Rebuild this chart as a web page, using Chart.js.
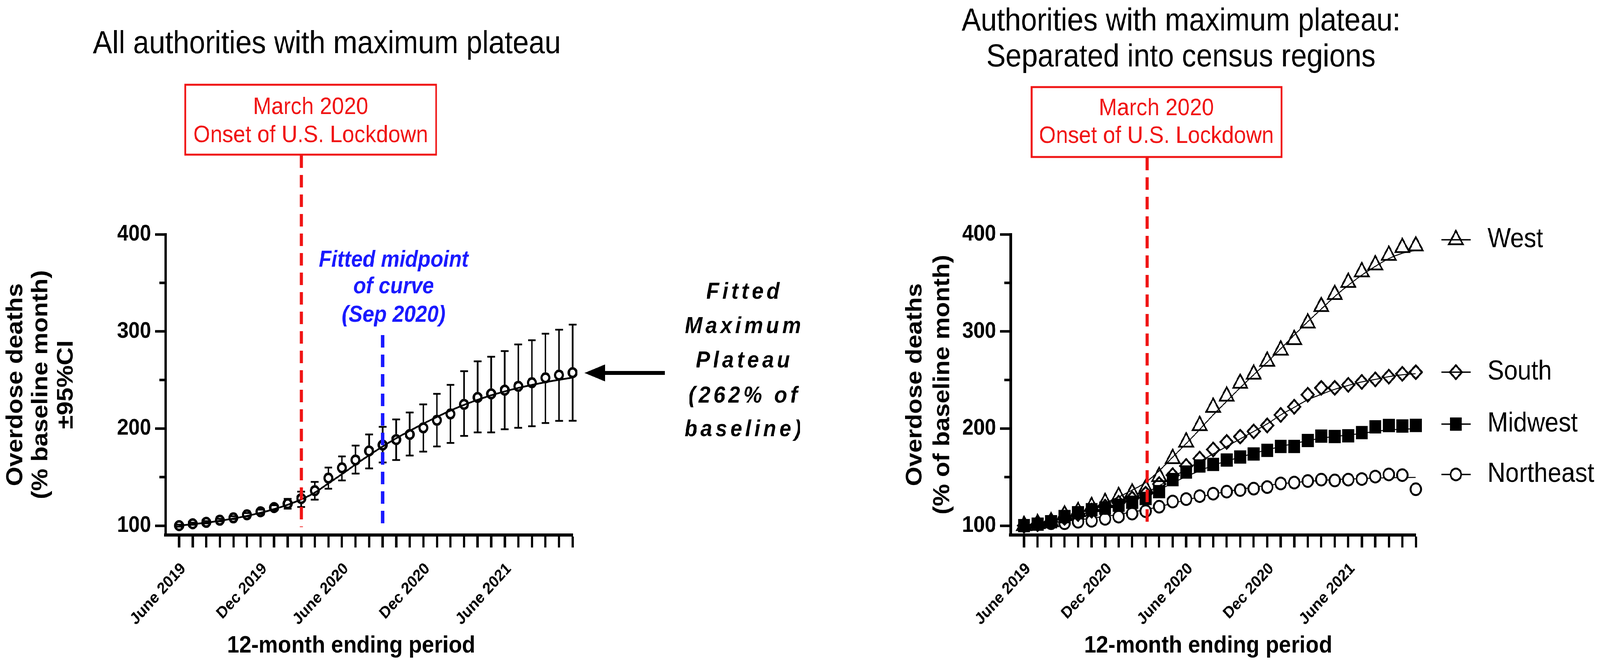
<!DOCTYPE html>
<html>
<head>
<meta charset="utf-8">
<script src="https://cdn.jsdelivr.net/npm/chart.js@4.4.1/dist/chart.umd.min.js"></script>
<style>
  html, body { margin: 0; padding: 0; background: #fff; overflow: hidden; }
  #outer { position: relative; overflow: hidden; width: 4552px; height: 1708px; background: #fff; }
  #wrap { position: absolute; left: 0; top: 0; width: 4552px; height: 1708px; transform-origin: 0 0; }
  canvas { position: absolute; top: 0; }
  #left { left: 0; }
  #right { left: 2276px; }
</style>
</head>
<body>
<div id="outer">
  <div id="wrap">
    <canvas id="left" width="2276" height="1708"></canvas>
    <canvas id="right" width="2276" height="1708"></canvas>
  </div>
</div>
<script>
// 12-month ending periods, one point per month
const periods = [
  'Jun 2019', 'Jul 2019', 'Aug 2019', 'Sep 2019', 'Oct 2019', 'Nov 2019',
  'Dec 2019', 'Jan 2020', 'Feb 2020', 'Mar 2020', 'Apr 2020', 'May 2020',
  'Jun 2020', 'Jul 2020', 'Aug 2020', 'Sep 2020', 'Oct 2020', 'Nov 2020',
  'Dec 2020', 'Jan 2021', 'Feb 2021', 'Mar 2021', 'Apr 2021', 'May 2021',
  'Jun 2021', 'Jul 2021', 'Aug 2021', 'Sep 2021', 'Oct 2021', 'Nov 2021',
];
const tickIdx = [0, 6, 12, 18, 24];
const leftTickText = ['June 2019', 'Dec 2019', 'June 2020', 'Dec 2020', 'June 2021'];
const rightTickText = ['June 2019', 'Dec 2020', 'June 2020', 'Dec 2020', 'June 2021'];
const yMajor = [100, 200, 300, 400];
const yMinor = [150, 250, 350];

// left panel: all authorities, mean with 95% CI and fitted curve
const allMean = [100, 101.9, 103.4, 105.6, 108, 111.2, 114.3, 118.6, 122.6, 127.9,
  136, 149, 159.5, 167.6, 176.9, 183, 188.6, 193.9, 200.7, 208.5,
  215, 224.9, 232, 235.7, 239.5, 243.5, 247.2, 252.2, 255, 257.5];
const allUpper = [101, 103, 104.6, 107, 109.7, 113, 116.5, 121, 127.5, 135,
  145, 159.8, 171.3, 182.4, 193.9, 201.7, 209.4, 216.5, 224.9, 235.7,
  245, 259, 269.2, 273.9, 279.8, 286.6, 290.9, 297.7, 301.8, 307];
const allLower = [99, 100.9, 102.3, 104.4, 106.7, 109.6, 112.3, 116.2, 117.5, 119.2,
  126.7, 138, 146.5, 153.6, 158.9, 165, 167.6, 172.2, 176.2, 181.5,
  185.2, 192.4, 196, 196, 199.2, 200.7, 202.3, 205.7, 207.9, 208];
const allFit = [100, 101.5, 103, 105, 107.3, 110, 113.2, 117, 121.5, 127,
  134, 143.5, 153, 163, 172.5, 181.5, 190, 197.6, 205, 211.9,
  218.5, 224.3, 229.5, 234.2, 238.2, 241.8, 244.9, 247.7, 250.2, 252.5];

// right panel: census regions
const westPts = [100, 102, 104, 111, 114.3, 119.5, 123.6, 129.8, 133.5, 138,
  150.5, 169, 186, 203, 221.8, 233.3, 246.6, 255.9, 269.2, 280.7,
  291.5, 308.6, 325.6, 338, 350.4, 361.3, 368.4, 378.3, 386.3, 388];
const westFit = [100, 102.5, 105.5, 109, 113, 118, 123.5, 129.5, 136.5, 144.5,
  156.5, 170.5, 184.5, 199, 214, 228, 242, 255.3, 268.3, 282.2,
  296.2, 310, 323, 336, 347.5, 358, 367, 375, 380.5, 383.5];
const southPts = [100, 101.5, 104, 108, 112, 115.5, 119.5, 123.5, 128, 133,
  142.8, 152, 161.4, 169.1, 178.4, 186.2, 191.7, 197, 203.2, 214,
  222.4, 234.8, 241.9, 241.9, 245, 248, 250.6, 253.4, 256.3, 258];
const southFit = [100, 102, 104.5, 107.5, 111, 114.5, 118.5, 123, 128, 134,
  141, 149.6, 158.3, 166, 173.8, 181.5, 189.3, 197, 204.8, 214,
  221.8, 229.6, 235.2, 240.4, 244.4, 248, 250.6, 253.4, 255.3, 256.5];
const midwestPts = [100, 101.5, 104, 109.3, 113.3, 116.4, 118, 121, 124, 128,
  135, 147.4, 155.2, 161.4, 163, 167.6, 170.7, 173.8, 177.5, 181.5,
  181.5, 187.7, 192.2, 191.8, 192.5, 195.8, 201.7, 203.1, 202.6, 203.2];
const midwestFit = [100, 102, 104.5, 107.5, 111, 114.5, 118, 122, 126.5, 131,
  137, 144, 150.5, 156.5, 162, 166.5, 170.5, 174.5, 178, 181.5,
  184.5, 187.5, 190, 191.8, 193.3, 195, 197, 198.5, 199.3, 199.8];
const northeastPts = [100, 101.5, 102.5, 102.5, 104, 105, 107, 109.3, 112.4, 114.9,
  119.5, 124.8, 127.3, 130.4, 132.9, 135, 136.6, 138.1, 139.7, 143.4,
  144.3, 145.9, 147.4, 146.5, 147.4, 148, 150.5, 152.7, 152, 137.5];
const northeastFit = [100, 101.5, 103, 104.5, 106, 107.5, 109.5, 111.5, 114, 116.5,
  119.5, 123, 126.5, 129.5, 132.5, 135, 137.5, 139.5, 141.5, 143,
  144.5, 145.5, 146.5, 147.5, 148, 148.5, 149, 149.3, 149.5, 149.7];
const regionNames = ['West', 'South', 'Midwest', 'Northeast'];

const lockdownIdx = periods.indexOf('Mar 2020');
const midpointIdx = periods.indexOf('Sep 2020');

const FONT = '"Liberation Sans", Arial, Helvetica, sans-serif';
const RED = '#f01414';
const BLUE = '#1a1aff';

// the figure is laid out at 4552x1708; stretch it over the window's real css size
const fitX = window.innerWidth / 4552;
const fitY = window.innerHeight / 1708;
if (Math.abs(fitX - 1) > 0.001 || Math.abs(fitY - 1) > 0.001) {
  const outer = document.getElementById('outer');
  outer.style.width = window.innerWidth + 'px';
  outer.style.height = window.innerHeight + 'px';
  document.getElementById('wrap').style.transform = `scale(${fitX}, ${fitY})`;
}

function toXY(arr) {
  return arr.map((v, i) => ({ x: i, y: v }));
}

function drawText(ctx, s, x, y, font, color, align, baseline, spacing) {
  ctx.save();
  ctx.font = font;
  ctx.fillStyle = color;
  ctx.textAlign = align || 'center';
  ctx.textBaseline = baseline || 'alphabetic';
  if (spacing) ctx.letterSpacing = spacing;
  ctx.fillText(s, x, y);
  ctx.restore();
}

function dashedV(ctx, x, y1, y2, color) {
  ctx.save();
  ctx.strokeStyle = color;
  ctx.lineWidth = 9;
  ctx.setLineDash([32, 18]);
  ctx.beginPath();
  ctx.moveTo(x, y1);
  ctx.lineTo(x, y2);
  ctx.stroke();
  ctx.restore();
}

function minorTicks(chart) {
  const ctx = chart.ctx, ys = chart.scales.y, left = chart.chartArea.left;
  ctx.save();
  ctx.strokeStyle = '#000';
  ctx.lineWidth = 6.5;
  yMinor.forEach(v => {
    const y = ys.getPixelForValue(v);
    ctx.beginPath();
    ctx.moveTo(left, y);
    ctx.lineTo(left - 18, y);
    ctx.stroke();
  });
  ctx.restore();
}

// same shapes as the chart markers, for the legend
function legendMark(ctx, style, x, y, r, bw, fill) {
  ctx.save();
  ctx.fillStyle = fill;
  ctx.strokeStyle = '#000';
  ctx.lineWidth = bw;
  ctx.beginPath();
  if (style === 'circle') {
    ctx.arc(x, y, r, 0, Math.PI * 2);
  } else if (style === 'triangle') {
    ctx.moveTo(x, y - r);
    ctx.lineTo(x + r * 0.866, y + r * 0.5);
    ctx.lineTo(x - r * 0.866, y + r * 0.5);
    ctx.closePath();
  } else if (style === 'rectRot') {
    ctx.moveTo(x - r, y);
    ctx.lineTo(x, y - r);
    ctx.lineTo(x + r, y);
    ctx.lineTo(x, y + r);
    ctx.closePath();
  } else {
    const s = r * Math.SQRT1_2;
    ctx.rect(x - s, y - s, 2 * s, 2 * s);
  }
  ctx.fill();
  ctx.stroke();
  ctx.restore();
}

function makeScales(tickText, yTitle, yLineHeight, yPadTop, axisLeft) {
  return {
    x: {
      type: 'linear', min: -1, max: 29,
      afterBuildTicks: s => { s.ticks = periods.map((p, i) => ({ value: i })); },
      afterFit: s => { s.height = 1708 - 1370; },
      ticks: {
        autoSkip: false, maxRotation: 45, minRotation: 45, padding: 30, labelOffset: 12,
        color: '#000', font: { family: FONT, size: 42, weight: 'bold' },
        callback: v => { const k = tickIdx.indexOf(v); return k >= 0 ? tickText[k] : ''; },
      },
      grid: { drawOnChartArea: false, drawTicks: true, tickLength: 32, tickWidth: 6.5, tickColor: '#000' },
      border: { display: true, color: '#000', width: 8 },
    },
    y: {
      type: 'linear', min: 90.35, max: 400,
      afterBuildTicks: s => { s.ticks = yMajor.map(v => ({ value: v })); },
      afterFit: s => { s.width = axisLeft; },
      ticks: { padding: 11, color: '#000', font: { family: FONT, size: 58, weight: 'bold' } },
      grid: { drawOnChartArea: false, drawTicks: true, tickLength: 30, tickWidth: 6.5, tickColor: '#000' },
      border: { display: true, color: '#000', width: 7 },
      title: {
        display: true, text: yTitle, color: '#000',
        font: { family: FONT, size: 64, weight: 'bold', lineHeight: yLineHeight / 64 },
        padding: { top: yPadTop, bottom: 0 },
      },
    },
  };
}

const leftNotes = {
  id: 'leftNotes',
  beforeDatasetsDraw(chart) {
    // 95% CI bars, drawn outside the open circles
    const ctx = chart.ctx, xs = chart.scales.x, ys = chart.scales.y;
    ctx.save();
    ctx.strokeStyle = '#000';
    ctx.lineWidth = 4.5;
    allMean.forEach((m, i) => {
      const x = xs.getPixelForValue(i);
      const ym = ys.getPixelForValue(m);
      const yt = ys.getPixelForValue(allUpper[i]);
      const yb = ys.getPixelForValue(allLower[i]);
      ctx.beginPath();
      if (yt < ym - 14) { ctx.moveTo(x, yt); ctx.lineTo(x, ym - 14); }
      if (yb > ym + 14) { ctx.moveTo(x, ym + 14); ctx.lineTo(x, yb); }
      ctx.moveTo(x - 11, yt); ctx.lineTo(x + 11, yt);
      ctx.moveTo(x - 11, yb); ctx.lineTo(x + 11, yb);
      ctx.stroke();
    });
    ctx.restore();
  },
  afterDatasetsDraw(chart) {
    const ctx = chart.ctx, xs = chart.scales.x, ys = chart.scales.y;
    dashedV(ctx, xs.getPixelForValue(lockdownIdx), 398, ys.getPixelForValue(98.5), RED);
    dashedV(ctx, xs.getPixelForValue(midpointIdx), 858, ys.getPixelForValue(98.5), BLUE);
  },
  afterDraw(chart) {
    const ctx = chart.ctx;
    minorTicks(chart);
    drawText(ctx, 'All authorities with maximum plateau', 930, 136, `82px ${FONT}`, '#000');
    ctx.save();
    ctx.strokeStyle = RED;
    ctx.lineWidth = 5;
    ctx.strokeRect(527, 217, 714, 179);
    ctx.restore();
    drawText(ctx, 'March 2020', 884, 292, `62px ${FONT}`, RED);
    drawText(ctx, 'Onset of U.S. Lockdown', 884, 364, `62px ${FONT}`, RED);
    const bf = `italic bold 59px ${FONT}`;
    drawText(ctx, 'Fitted midpoint', 1120, 683, bf, BLUE);
    drawText(ctx, 'of curve', 1120, 751, bf, BLUE);
    drawText(ctx, '(Sep 2020)', 1120, 824, bf, BLUE);
    const pf = `italic bold 60px ${FONT}`;
    ['Fitted', 'Maximum', 'Plateau', '(262% of', 'baseline)'].forEach((s, k) => {
      drawText(ctx, s, 2118, [765, 853, 941, 1031, 1117][k], pf, '#000', 'center', 'alphabetic', '9px');
    });
    ctx.save();
    ctx.fillStyle = '#000';
    ctx.fillRect(1715, 950, 176, 10);
    ctx.beginPath();
    ctx.moveTo(1663, 955);
    ctx.lineTo(1722, 933);
    ctx.lineTo(1722, 977);
    ctx.closePath();
    ctx.fill();
    ctx.restore();
    drawText(ctx, '12-month ending period', 999, 1654, `bold 62px ${FONT}`, '#000', 'center', 'middle');
  },
};

const regionStyles = [
  { style: 'triangle', r: 23, bw: 4.5, fill: 'rgba(0,0,0,0)' },
  { style: 'rectRot', r: 17.5, bw: 5, fill: 'rgba(0,0,0,0)' },
  { style: 'rect', r: 23, bw: 1.5, fill: '#000' },
  { style: 'circle', r: 15, bw: 5, fill: '#fff' },
];

const rightNotes = {
  id: 'rightNotes',
  afterDatasetsDraw(chart) {
    const ctx = chart.ctx, xs = chart.scales.x, ys = chart.scales.y;
    dashedV(ctx, xs.getPixelForValue(lockdownIdx + 0.1), 404, ys.getPixelForValue(98.5), RED);
  },
  afterDraw(chart) {
    const ctx = chart.ctx;
    minorTicks(chart);
    drawText(ctx, 'Authorities with maximum plateau:', 1084, 78, `82px ${FONT}`, '#000');
    drawText(ctx, 'Separated into census regions', 1084, 170, `82px ${FONT}`, '#000');
    ctx.save();
    ctx.strokeStyle = RED;
    ctx.lineWidth = 5;
    ctx.strokeRect(659, 223, 711, 179);
    ctx.restore();
    drawText(ctx, 'March 2020', 1014, 295, `62px ${FONT}`, RED);
    drawText(ctx, 'Onset of U.S. Lockdown', 1014, 366, `62px ${FONT}`, RED);
    drawText(ctx, '12-month ending period', 1161, 1654, `bold 62px ${FONT}`, '#000', 'center', 'middle');
    const rows = [614, 953, 1086, 1215];
    regionNames.forEach((name, k) => {
      const y = rows[k], st = regionStyles[k];
      ctx.save();
      ctx.strokeStyle = '#000';
      ctx.lineWidth = 3.3;
      ctx.beginPath();
      ctx.moveTo(1825, y);
      ctx.lineTo(1908, y);
      ctx.stroke();
      ctx.restore();
      legendMark(ctx, st.style, 1866, y, st.r, st.bw, st.fill);
      drawText(ctx, name, 1956, y, `70px ${FONT}`, '#000', 'left', 'middle');
    });
  },
};

const fitLine = (arr, w) => ({
  type: 'line', data: toXY(arr), borderColor: '#000', borderWidth: w,
  pointRadius: 0, cubicInterpolationMode: 'monotone', order: 5, clip: false,
});
const markers = (arr, st, label) => ({
  type: 'line', label: label, data: toXY(arr), showLine: false,
  pointStyle: st.style, pointRadius: st.r, pointBorderWidth: st.bw,
  pointBackgroundColor: st.fill, pointBorderColor: '#000', order: 1, clip: false,
});

const common = {
  responsive: false, animation: false, devicePixelRatio: 1,
  plugins: { legend: { display: false }, tooltip: { enabled: false } },
};

new Chart(document.getElementById('left'), {
  type: 'line',
  data: {
    datasets: [
      fitLine(allFit, 4.5),
      markers(allMean, { style: 'circle', r: 11, bw: 6.5, fill: 'rgba(0,0,0,0)' }, 'All authorities'),
    ],
  },
  options: Object.assign({}, common, {
    layout: { padding: { left: 0, top: 600, right: 2276 - 1629, bottom: 0 } },
    scales: makeScales(leftTickText, ['Overdose deaths', '(% baseline month)', '\u00b195%CI'], 72, 9, 471),
  }),
  plugins: [leftNotes],
});

new Chart(document.getElementById('right'), {
  type: 'line',
  data: {
    datasets: [
      fitLine(westFit, 2.5), fitLine(southFit, 2.5), fitLine(midwestFit, 2.5), fitLine(northeastFit, 2.5),
      markers(westPts, regionStyles[0], regionNames[0]),
      markers(southPts, regionStyles[1], regionNames[1]),
      markers(midwestPts, regionStyles[2], regionNames[2]),
      markers(northeastPts, regionStyles[3], regionNames[3]),
    ],
  },
  options: Object.assign({}, common, {
    layout: { padding: { left: 0, top: 600, right: 2276 - 1752, bottom: 0 } },
    scales: makeScales(rightTickText, ['Overdose deaths', '(% of baseline month)'], 78, 289, 599),
  }),
  plugins: [rightNotes],
});
</script>
</body>
</html>
